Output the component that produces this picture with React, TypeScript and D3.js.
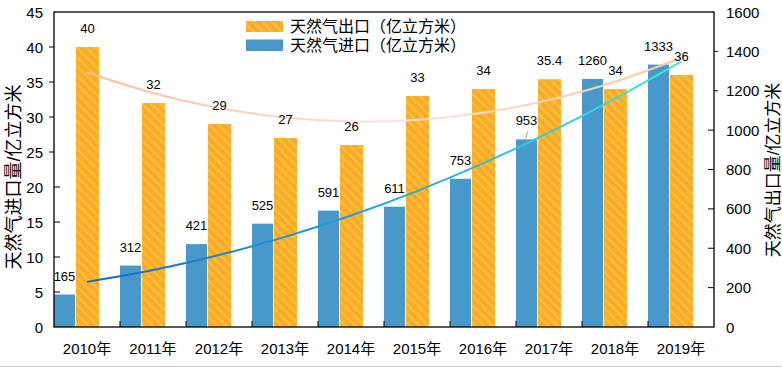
import React from "react";
import * as d3 from "d3";

const years = ["2010年", "2011年", "2012年", "2013年", "2014年", "2015年", "2016年", "2017年", "2018年", "2019年"];
const exportVals = [40, 32, 29, 27, 26, 33, 34, 35.4, 34, 36];
const importVals = [165, 312, 421, 525, 591, 611, 753, 953, 1260, 1333];
const leftTicks = [0, 5, 10, 15, 20, 25, 30, 35, 40, 45];
const rightTicks = [0, 200, 400, 600, 800, 1000, 1200, 1400, 1600];

const W = 782;
const H = 367;
const margin = { top: 12, right: 68, bottom: 40, left: 54 };
const FONT = "'Liberation Sans', 'Noto Sans CJK SC', sans-serif";

// second order least squares trend, like the spreadsheet's polynomial trendline
function quadFit(ys: number[]) {
  const n = ys.length;
  let s0 = 0, s1 = 0, s2 = 0, s3 = 0, s4 = 0, t0 = 0, t1 = 0, t2 = 0;
  ys.forEach((y, x) => {
    s0 += 1; s1 += x; s2 += x * x; s3 += x * x * x; s4 += x * x * x * x;
    t0 += y; t1 += x * y; t2 += x * x * y;
  });
  const det = (m: number[][]) =>
    m[0][0] * (m[1][1] * m[2][2] - m[1][2] * m[2][1]) -
    m[0][1] * (m[1][0] * m[2][2] - m[1][2] * m[2][0]) +
    m[0][2] * (m[1][0] * m[2][1] - m[1][1] * m[2][0]);
  const A = [[s0, s1, s2], [s1, s2, s3], [s2, s3, s4]];
  const B = [t0, t1, t2];
  const D = det(A);
  const coef = [0, 1, 2].map((k) => det(A.map((row, i) => row.map((v, j) => (j === k ? B[i] : v)))) / D);
  return d3.range(n).map((x) => coef[0] + coef[1] * x + coef[2] * x * x);
}

export default function App() {
  const x0 = margin.left;
  const x1 = W - margin.right;
  const y0 = H - margin.bottom;
  const y1 = margin.top;

  const x = d3.scaleBand().domain(years).range([x0, x1]).padding(0);
  const yL = d3.scaleLinear().domain([0, 45]).range([y0, y1]);
  const yR = d3.scaleLinear().domain([0, 1600]).range([y0, y1]);
  const bw = x.bandwidth();
  const cx = (d: string) => (x(d) as number) + bw / 2;

  const expTrend = quadFit(exportVals);
  const impTrend = quadFit(importVals);

  const lineL = d3.line<number>().x((d, i) => cx(years[i])).y((d) => yL(d)).curve(d3.curveNatural);
  const lineR = d3.line<number>().x((d, i) => cx(years[i])).y((d) => yR(d)).curve(d3.curveNatural);

  const blueW = 21;
  const orangeOff = 22;
  const orangeW = 23;

  return (
    <svg width={W} height={H} style={{ position: "fixed", left: 0, top: 0, background: "#fff" }} fontFamily={FONT}>
      <defs>
        <pattern id="stripe" patternUnits="userSpaceOnUse" width="6.5" height="6.5" patternTransform="rotate(-45)">
          <rect width="6.5" height="6.5" fill="#FFA53A" />
          <rect width="2.4" height="6.5" fill="#F2C81C" />
        </pattern>
        <linearGradient id="gradExp" gradientUnits="userSpaceOnUse" x1={cx(years[0])} x2={cx(years[9])} y1="0" y2="0">
          <stop offset="0" stopColor="#FFBE90" />
          <stop offset="0.5" stopColor="#FBE0E2" />
          <stop offset="1" stopColor="#FFC8A0" />
        </linearGradient>
        <linearGradient id="gradImp" gradientUnits="userSpaceOnUse" x1={cx(years[0])} x2={cx(years[9])} y1="0" y2="0">
          <stop offset="0" stopColor="#1668CC" />
          <stop offset="0.5" stopColor="#22A6DC" />
          <stop offset="1" stopColor="#40EADF" />
        </linearGradient>
      </defs>

      {/* bars */}
      {years.map((d, i) => (
        <g key={d}>
          <rect x={x(d) as number} y={yR(importVals[i])} width={blueW} height={y0 - yR(importVals[i])} fill="#4899C9" />
          <rect
            x={(x(d) as number) + orangeOff}
            y={yL(exportVals[i])}
            width={orangeW}
            height={y0 - yL(exportVals[i])}
            fill="url(#stripe)"
          />
        </g>
      ))}

      {/* trend lines */}
      <path d={lineL(expTrend) || ""} fill="none" stroke="url(#gradExp)" strokeWidth={2} />
      <path d={lineR(impTrend) || ""} fill="none" stroke="url(#gradImp)" strokeWidth={2} />

      {/* value labels */}
      {years.map((d, i) => (
        <g key={"l" + d} fontSize={13} textAnchor="middle" fill="#000">
          <text x={(x(d) as number) + blueW / 2} y={yR(importVals[i]) - 14}>{importVals[i]}</text>
          <text x={(x(d) as number) + orangeOff + orangeW / 2} y={yL(exportVals[i]) - 14}>{exportVals[i]}</text>
        </g>
      ))}
      {/* leader line for 953 */}
      <line
        x1={(x(years[7]) as number) + blueW / 2 + 1}
        y1={yR(importVals[7]) - 8}
        x2={(x(years[7]) as number) + blueW / 2 - 0.5}
        y2={yR(importVals[7]) - 1}
        stroke="#999"
        strokeWidth={1}
      />

      {/* frame */}
      <rect x={x0} y={y1} width={x1 - x0} height={y0 - y1} fill="none" stroke="#000" strokeWidth={1.3} />

      {/* left axis */}
      {leftTicks.map((t) => (
        <g key={"lt" + t}>
          {t > 0 && t < 45 && (
            <line x1={t >= 25 ? x0 - 5 : x0} x2={t >= 25 ? x0 : x0 + 6} y1={yL(t)} y2={yL(t)} stroke="#000" />
          )}
          <text x={x0 - 11} y={yL(t)} textAnchor="end" dominantBaseline="central" fontSize={15}>{t}</text>
        </g>
      ))}

      {/* right axis */}
      {rightTicks.map((t) => (
        <g key={"rt" + t}>
          {t > 0 && t < 1600 && (
            <line x1={t >= 1200 ? x1 : x1 - 6} x2={t >= 1200 ? x1 + 4 : x1} y1={yR(t)} y2={yR(t)} stroke="#000" />
          )}
          <text x={x1 + 12} y={yR(t)} textAnchor="start" dominantBaseline="central" fontSize={15}>{t}</text>
        </g>
      ))}

      {/* category ticks and labels */}
      {years.map((d, i) => (
        <g key={"x" + d}>
          {i > 0 && <line x1={x(d) as number} x2={x(d) as number} y1={y0 - 6} y2={y0} stroke="#000" />}
          <text x={cx(d)} y={y0 + 21} textAnchor="middle" dominantBaseline="central" fontSize={15}>{d}</text>
        </g>
      ))}

      {/* axis titles */}
      <text transform={`translate(14,177) rotate(-90)`} textAnchor="middle" dominantBaseline="central" fontSize={18}>
        天然气进口量/亿立方米
      </text>
      <text transform={`translate(773,170) rotate(-90)`} textAnchor="middle" dominantBaseline="central" fontSize={17}>
        天然气出口量/亿立方米
      </text>

      {/* legend */}
      <rect x={246} y={21} width={37} height={11} fill="url(#stripe)" />
      <text x={290} y={26.5} dominantBaseline="central" fontSize={16}>天然气出口（亿立方米）</text>
      <rect x={246} y={39.5} width={37} height={11.5} fill="#4899C9" />
      <text x={290} y={45} dominantBaseline="central" fontSize={16}>天然气进口（亿立方米）</text>

      <line x1={0} x2={W} y1={H - 0.5} y2={H - 0.5} stroke="#c8c8c8" strokeWidth={1} />
    </svg>
  );
}
